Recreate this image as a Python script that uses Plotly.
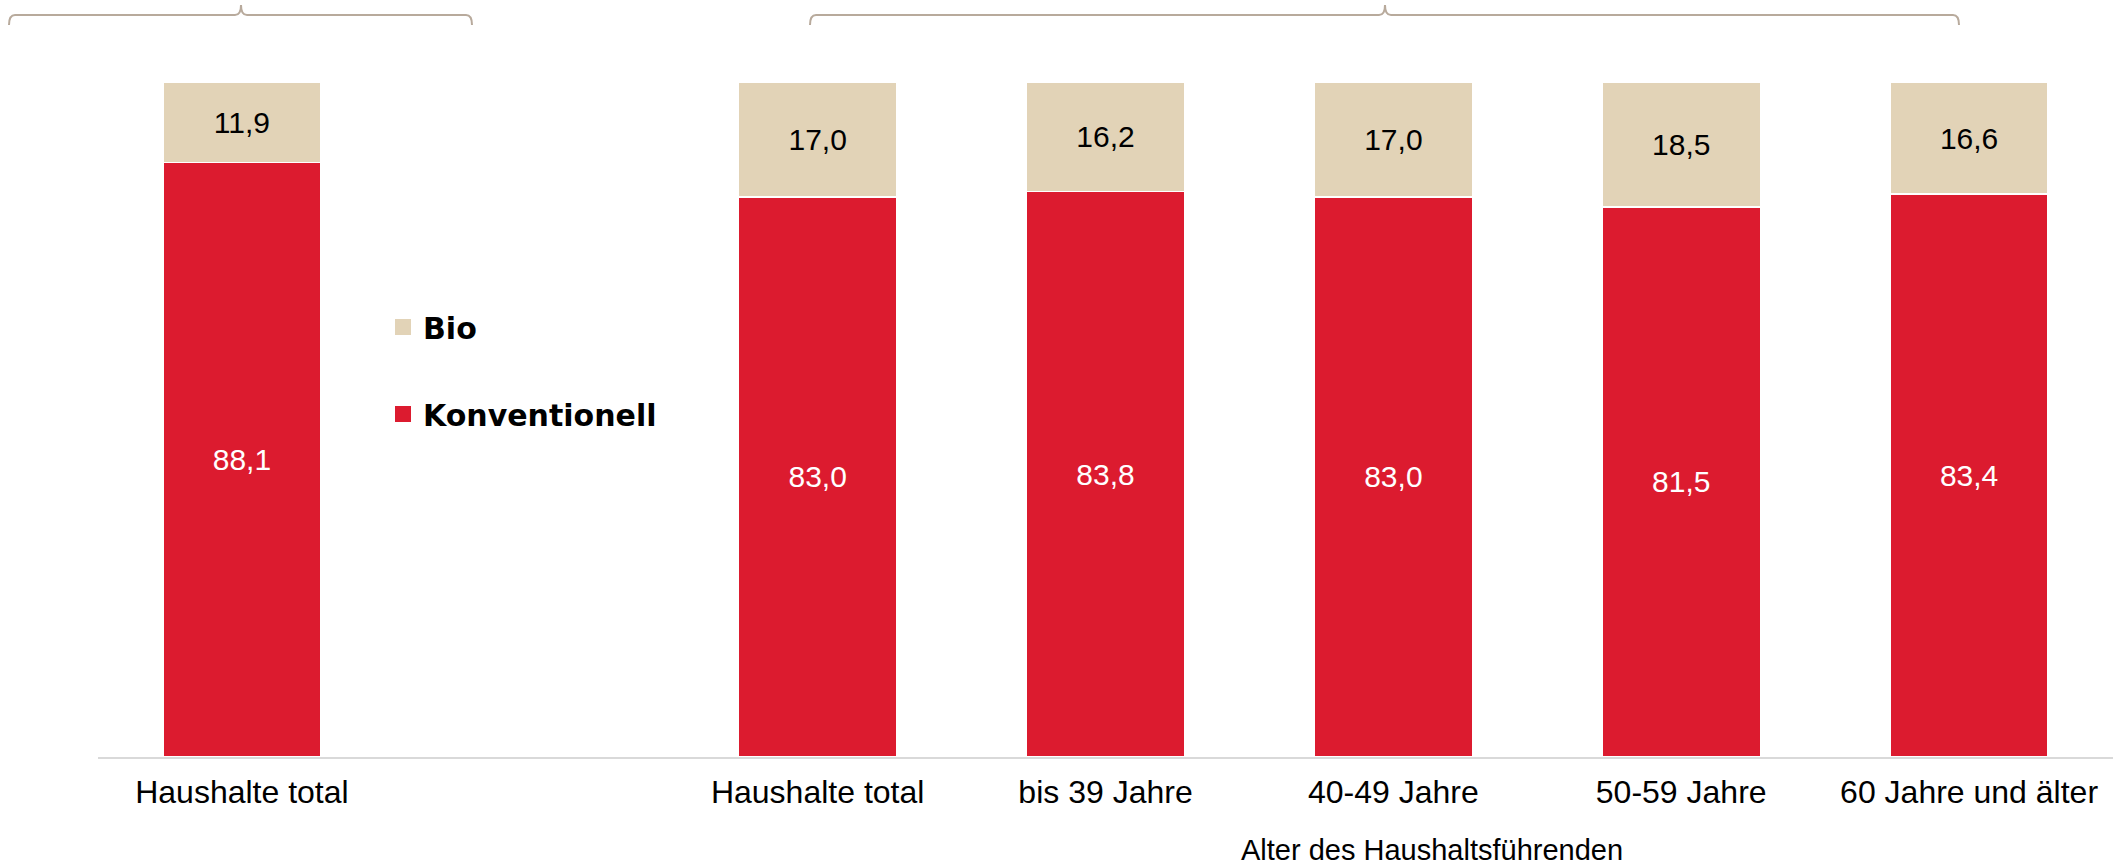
import plotly.graph_objects as go

# ---- data ----
group1_labels = ["Haushalte total"]
group2_labels = ["Haushalte total", "bis 39 Jahre", "40-49 Jahre", "50-59 Jahre", "60 Jahre und älter"]
konventionell = [88.1, 83.0, 83.8, 83.0, 81.5, 83.4]
bio = [11.9, 17.0, 16.2, 17.0, 18.5, 16.6]
axis_title_group2 = "Alter des Haushaltsführenden"

# slot positions: group 1, one empty slot, then group 2
categories = group1_labels + group2_labels
positions = list(range(len(group1_labels))) + [len(group1_labels) + 1 + i for i in range(len(group2_labels))]

RED = "#DC1B2F"
BEIGE = "#E2D3B7"
FONT = "Liberation Sans, Arial, sans-serif"

W, H = 2113, 866
ML, MR, MT, MB = 98, 0, 82, 109
PW = W - ML - MR
PH = H - MT - MB


def px(xp):
    return (xp - ML) / PW


def py(yp):
    return (H - MB - yp) / PH


fig = go.Figure()
fig.add_trace(go.Bar(
    x=positions, y=konventionell, name="Konventionell", marker=dict(color=RED, line=dict(color="white", width=1.5)),
    width=0.55, texttemplate="%{y:.1f}", textposition="inside", insidetextanchor="middle",
    textfont=dict(color="white", size=30, family=FONT), showlegend=False, hoverinfo="skip"))
fig.add_trace(go.Bar(
    x=positions, y=bio, name="Bio", marker=dict(color=BEIGE, line=dict(color="white", width=1.5)),
    width=0.55, texttemplate="%{y:.1f}", textposition="inside", insidetextanchor="middle",
    textfont=dict(color="black", size=30, family=FONT), showlegend=False, hoverinfo="skip"))

# legend entries
fig.add_trace(go.Scatter(x=[None], y=[None], mode="markers", name="Bio",
                         marker=dict(symbol="square", size=18, color=BEIGE), legend="legend"))
fig.add_trace(go.Scatter(x=[None], y=[None], mode="markers", name="Konventionell",
                         marker=dict(symbol="square", size=18, color=RED), legend="legend2"))

legend_font = dict(family="DejaVu Sans, sans-serif", size=30, color="black", weight="bold")
fig.update_layout(
    width=W, height=H,
    margin=dict(l=ML, r=MR, t=MT, b=MB),
    barmode="stack",
    separators=",.",
    paper_bgcolor="white", plot_bgcolor="white",
    legend=dict(x=px(383), y=py(327), xanchor="left", yanchor="middle", font=legend_font,
                bgcolor="rgba(0,0,0,0)", borderwidth=0),
    legend2=dict(x=px(383), y=py(414), xanchor="left", yanchor="middle", font=legend_font,
                 bgcolor="rgba(0,0,0,0)", borderwidth=0),
    xaxis=dict(range=[-0.5, max(positions) + 0.5], tickvals=positions, ticktext=categories,
               showgrid=False, zeroline=False, showline=True, linecolor="#D9D9D9", linewidth=2,
               ticks="", tickfont=dict(family=FONT, size=32, color="black"), ticklabelstandoff=6),
    yaxis=dict(range=[0, 100], visible=False, showgrid=False, zeroline=False),
    hovermode=False,
)

fig.add_annotation(text=axis_title_group2, xref="paper", yref="paper", x=px(1432), y=py(850),
                   xanchor="center", yanchor="middle", showarrow=False,
                   font=dict(family=FONT, size=29, color="black"))


def bracket(x0, x1, xc, y_line=15, y_end=25, y_tip=5, r=6):
    X = lambda v: px(v)
    Y = lambda v: py(v)
    path = (f"M {X(x0)},{Y(y_end)} Q {X(x0)},{Y(y_line)} {X(x0 + r)},{Y(y_line)} "
            f"L {X(xc - r)},{Y(y_line)} Q {X(xc)},{Y(y_line)} {X(xc)},{Y(y_tip)} "
            f"Q {X(xc)},{Y(y_line)} {X(xc + r)},{Y(y_line)} "
            f"L {X(x1 - r)},{Y(y_line)} Q {X(x1)},{Y(y_line)} {X(x1)},{Y(y_end)}")
    fig.add_shape(type="path", path=path, xref="paper", yref="paper",
                  line=dict(color="#B8AA9C", width=2))


bracket(9, 472, 241)
bracket(810, 1959, 1385)

fig.write_html("out.html", config={"displayModeBar": False},
               post_script="document.body.style.margin='0';document.body.style.overflow='hidden';")
